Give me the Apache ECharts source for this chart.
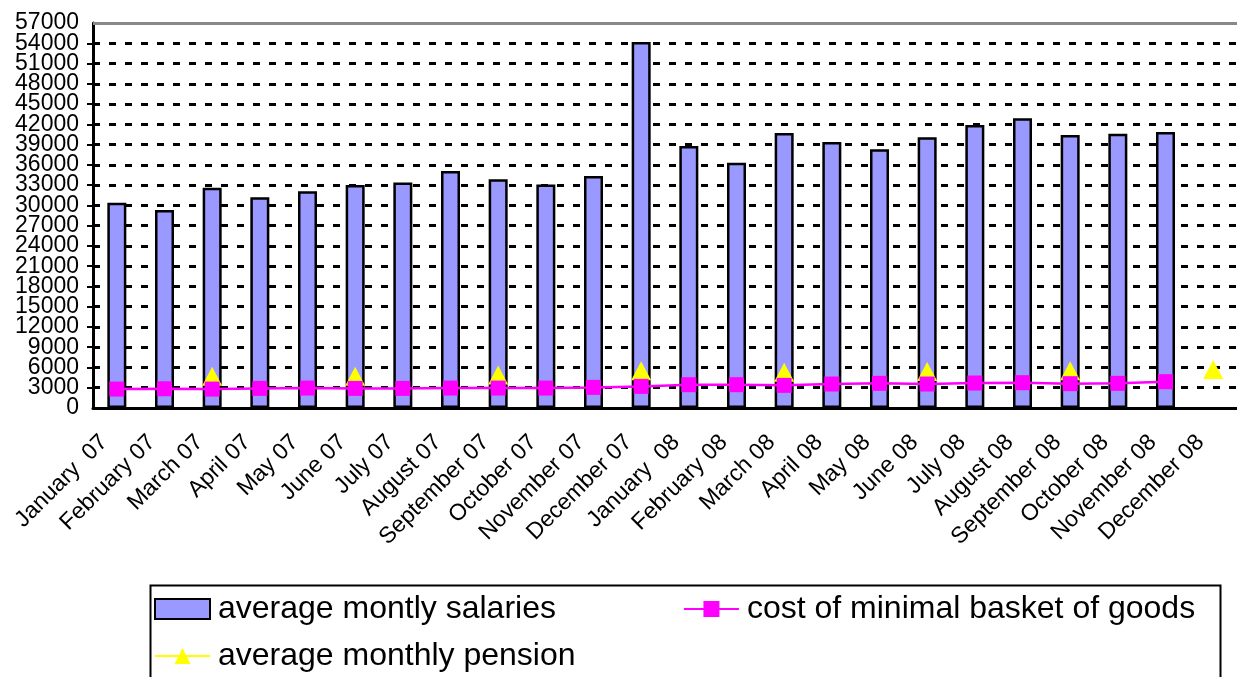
<!DOCTYPE html>
<html>
<head>
<meta charset="utf-8">
<script src="https://cdn.jsdelivr.net/npm/echarts@6/dist/echarts.min.js"></script>
<style>
  html, body { margin: 0; padding: 0; background: #fff; }
  #main { width: 1237px; height: 677px; }
</style>
</head>
<body>
<div id="main"></div>
<script>
const months = ['January  07', 'February 07', 'March 07', 'April 07', 'May 07', 'June 07', 'July 07',
  'August 07', 'September 07', 'October 07', 'November 07', 'December 07', 'January  08',
  'February 08', 'March 08', 'April 08', 'May 08', 'June 08', 'July 08', 'August 08',
  'September 08', 'October 08', 'November 08', 'December 08']

const salaries = [30400, 29300, 32600, 31200, 32100, 33000, 33400, 35100, 33850, 33100, 34350, 54200,
  38800, 36300, 40700, 39400, 38300, 40100, 41900, 42900, 40400, 40600, 40850, null]

const basket = [2800, 2850, 2800, 2900, 2950, 2900, 2900, 2950, 2950, 2950, 3050, 3200,
  3450, 3450, 3350, 3550, 3650, 3550, 3700, 3750, 3600, 3650, 3900, null]

// pension only known per quarter
const pension = [null, null, 4700, null, null, 4700, null, null, 4900, null, null, 5500,
  null, null, 5300, null, null, 5400, null, null, 5500, null, null, 5700]

const yMax = 57000
const yStep = 3000

const font = 'Liberation Sans, Arial, sans-serif'

const yLabel = { fontSize: 23, color: '#000', fontFamily: font, margin: 14 }

const option = {
  animation: false,
  textStyle: { fontFamily: font, color: '#000' },
  grid: { left: 93, top: 23, right: -7, bottom: 269 },
  graphic: [
    {
      type: 'rect',
      left: 148, top: 583,
      shape: { width: 1070, height: 120 },
      style: { fill: 'none', stroke: '#000', lineWidth: 2 }
    }
  ],
  legend: [
    {
      left: 149, top: 588,
      itemWidth: 55, itemHeight: 20, itemGap: 127,
      textStyle: { fontSize: 32, fontFamily: font, color: '#000', padding: [0, 0, 0, 3] },
      data: [{ name: 'average montly salaries', icon: 'rect' }, 'cost of minimal basket of goods']
    },
    {
      left: 149, top: 635,
      itemWidth: 55, itemHeight: 20,
      textStyle: { fontSize: 32, fontFamily: font, color: '#000', padding: [0, 0, 0, 3] },
      data: ['average monthly pension']
    }
  ],
  xAxis: {
    type: 'category',
    data: months,
    axisLine: { lineStyle: { color: '#000', width: 3 } },
    axisTick: { length: 6, lineStyle: { color: '#000', width: 2 } },
    axisLabel: {
      rotate: 45, fontSize: 23, color: '#000', fontFamily: font,
      margin: 18, interval: 0, padding: [0, 18, 0, 0]
    }
  },
  yAxis: [
    {
      type: 'value',
      min: 0, max: yMax, interval: yStep,
      axisLine: { show: true, lineStyle: { color: '#000', width: 3 } },
      axisTick: { show: true, length: 6, lineStyle: { color: '#000', width: 2 } },
      axisLabel: Object.assign({ formatter: v => String(v) }, yLabel),
      splitLine: { showMaxLine: false, lineStyle: { color: '#000', width: 3, type: [7, 9] } }
    },
    {
      // second copy of the same scale, only to print the end labels 0 and 57000
      type: 'value',
      position: 'left',
      min: 0, max: yMax, interval: yStep,
      axisLine: { show: false },
      axisTick: { show: false },
      splitLine: { show: false },
      axisLabel: Object.assign({
        showMinLabel: true, showMaxLabel: true,
        formatter: v => (v === 0 || v === yMax) ? String(v) : ''
      }, yLabel)
    }
  ],
  series: [
    {
      name: 'average montly salaries',
      type: 'bar',
      data: salaries,
      barWidth: 19,
      itemStyle: { color: '#9999ff', borderColor: '#000', borderWidth: 2.5 },
      markLine: {
        silent: true, symbol: 'none', label: { show: false },
        lineStyle: { color: '#888', width: 3, type: 'solid' },
        data: [{ yAxis: yMax }]
      }
    },
    {
      name: 'average monthly pension',
      type: 'line',
      data: pension,
      z: 3,
      symbol: 'triangle', symbolSize: [20, 19],
      lineStyle: { color: '#ffff00', width: 3 },
      itemStyle: { color: '#ffff00' }
    },
    {
      name: 'cost of minimal basket of goods',
      type: 'line',
      data: basket,
      z: 4,
      symbol: 'rect', symbolSize: 15,
      lineStyle: { color: '#ff00ff', width: 2.5 },
      itemStyle: { color: '#ff00ff' }
    }
  ]
}

let chart = echarts.init(document.getElementById('main'))
chart.setOption(option)
</script>
</body>
</html>
